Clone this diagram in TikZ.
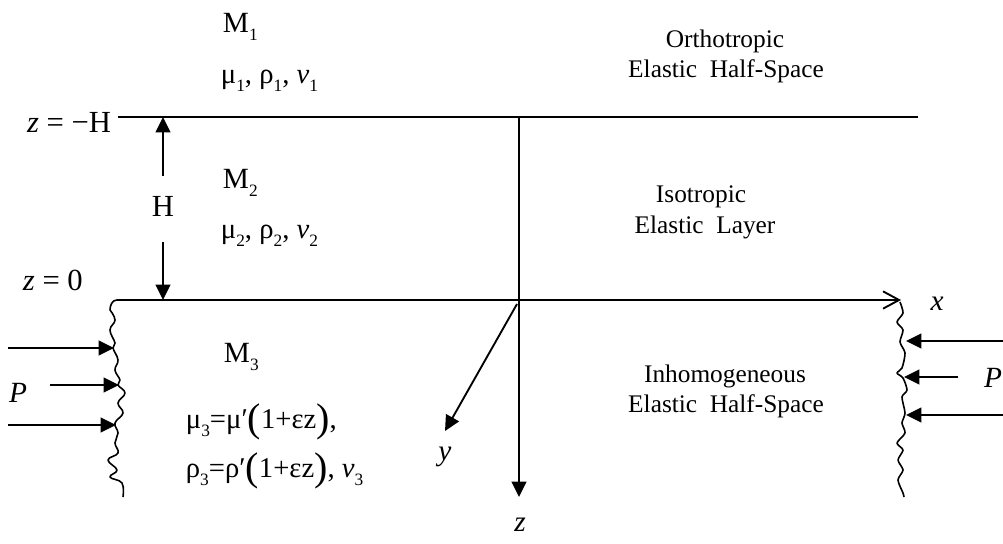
\documentclass[tikz,border=0pt]{standalone}
\usepackage{fontspec}
\setmainfont{Liberation Serif}
\usetikzlibrary{arrows.meta}
\newcommand{\bigparen}[1]{\raisebox{-0.12em}{\fontsize{30}{30}\selectfont #1}}
\newcommand{\lowsub}[1]{\raisebox{-0.28em}{\fontsize{13}{13}\selectfont #1}}
\begin{document}
\begin{tikzpicture}[x=0.75pt,y=-0.75pt,line width=1.4pt,
  filltip/.style={-{Triangle[length=11.5pt,width=11pt]}},
  wavy/.style={line width=1.2pt,line join=round},
  lbl/.style={inner sep=0pt,font=\fontsize{23}{26}\selectfont},
  mlab/.style={inner sep=0pt,anchor=base west,font=\fontsize{22}{24}\selectfont},
  plab/.style={inner sep=0pt,anchor=base west,font=\fontsize{21.5}{24}\selectfont},
  side/.style={inner sep=0pt,anchor=base,font=\fontsize{19}{22}\selectfont},
  axl/.style={inner sep=0pt,font=\fontsize{22}{26}\selectfont\itshape}]
\useasboundingbox (0,0) rectangle (1003,543);

% main coordinates
\coordinate (TL) at (118,117);
\coordinate (TR) at (918,117);
\coordinate (Otop) at (519,117);
\coordinate (zend) at (519,497);
\coordinate (yst) at (517,304);
\coordinate (yend) at (445,431);
\coordinate (xst) at (117,300);
\coordinate (xend) at (901,300);

% interfaces and axes
\draw (TL) -- (TR);
\draw[filltip] (Otop) -- (zend);
\draw[-{Straight Barb[length=12pt,width=13pt]}] (xst) -- (xend);
\draw[filltip] (yst) -- (yend);

% thickness H
\coordinate (Hu0) at (163,176);
\coordinate (Hu1) at (163,117);
\coordinate (Hd0) at (163,242);
\coordinate (Hd1) at (163,300);
\draw[filltip] (Hu0) -- (Hu1);
\draw[filltip] (Hd0) -- (Hd1);
\node[lbl] (Hl) at (163,206) {H};

% left rough boundary
\draw[wavy] (xst) to[out=180,in=90] (110,310)
  -- plot[smooth,tension=0.7] coordinates {(110,310) (115,320) (110,330) (115,343) (113,348) (118,360) (115,370) (120,380) (118,385) (125,393) (118,403) (123,413) (115,423) (118,433) (115,443) (118,453) (108,460) (117,470) (110,477) (122,483) (123,497)};

% right rough boundary
\draw[wavy] plot[smooth,tension=0.45] coordinates {(900,302) (903,313) (897,322) (903,330) (900,342) (905,353) (902,368) (897,373) (903,378) (907,390) (902,397) (905,413) (902,423) (905,433) (897,443) (903,450) (898,460) (903,470) (898,480) (903,493) (904,497)};

% left loads
\coordinate (la1) at (8,348);   \coordinate (lb1) at (114,348);
\coordinate (la2) at (50,385);  \coordinate (lb2) at (119,385);
\coordinate (la3) at (8,425);   \coordinate (lb3) at (116,425);
\draw[filltip] (la1) -- (lb1);
\draw[filltip] (la2) -- (lb2);
\draw[filltip] (la3) -- (lb3);
\node[axl] (Pl) at (18,393) {P};

% right loads
\coordinate (ra1) at (1003,341); \coordinate (rb1) at (906,341);
\coordinate (ra2) at (958,377);  \coordinate (rb2) at (904,377);
\coordinate (ra3) at (1003,415); \coordinate (rb3) at (906,415);
\draw[filltip] (ra1) -- (rb1);
\draw[filltip] (ra2) -- (rb2);
\draw[filltip] (ra3) -- (rb3);
\node[axl] (Pr) at (993,378) {P};

% axis labels
\node[axl] (xl) at (937,304) {x};
\node[axl] (yl) at (445,457) {y};
\node[axl] (zl) at (520,525) {z};

% level labels
\node[lbl,anchor=base east] (zH) at (112,132) {\textit{z} = −H};
\node[lbl,anchor=base west] (z0) at (22,290) {\textit{z} = 0};

% medium labels
\node[mlab] (M1) at (222,32) {M\lowsub{1}};
\node[plab] (p1) at (220,83) {μ\lowsub{1}, ρ\lowsub{1}, \textit{v}\lowsub{1}};
\node[mlab] (M2) at (222,188) {M\lowsub{2}};
\node[plab] (p2) at (220,238) {μ\lowsub{2}, ρ\lowsub{2}, \textit{v}\lowsub{2}};
\node[mlab] (M3) at (223,362) {M\lowsub{3}};
\node[plab] (p3a) at (185,428) {μ\lowsub{3}=μ′\bigparen{(}1+εz\bigparen{)},};
\node[plab] (p3b) at (185,477) {ρ\lowsub{3}=ρ′\bigparen{(}1+εz\bigparen{)}, \textit{v}\lowsub{3}};

% side descriptions
\node[side] (s1a) at (725,47) {Orthotropic};
\node[side] (s1b) at (726,77) {Elastic~ Half-Space};
\node[side] (s2a) at (701,202) {Isotropic};
\node[side] (s2b) at (705,233) {Elastic~ Layer};
\node[side] (s3a) at (725,382) {Inhomogeneous};
\node[side] (s3b) at (726,412) {Elastic~ Half-Space};
\end{tikzpicture}
\end{document}
